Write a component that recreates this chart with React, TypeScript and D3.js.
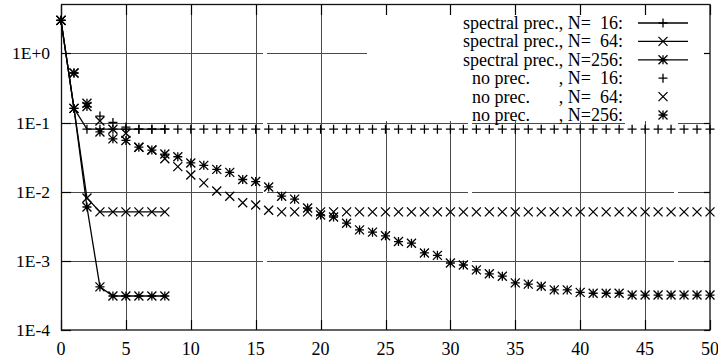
import React from "react";
import * as d3 from "d3";

// ---- data ----
const specN16 = [3.0, 0.16, 0.08, 0.08, 0.08, 0.08, 0.08, 0.08, 0.08];
const specN64 = [3.0, 0.16, 0.0081, 0.0051, 0.0051, 0.0051, 0.0051, 0.0051, 0.0051];
const specN256 = [3.0, 0.16, 0.006, 0.00042, 0.00031, 0.00031, 0.00031, 0.00031, 0.00031];

const noPrecN16 = [
  3.0, 0.52, 0.19, 0.124, 0.1, 0.086, 0.08, 0.08, 0.08, 0.08,
  0.08, 0.08, 0.08, 0.08, 0.08, 0.08, 0.08, 0.08, 0.08, 0.08,
  0.08, 0.08, 0.08, 0.08, 0.08, 0.08, 0.08, 0.08, 0.08, 0.08,
  0.08, 0.08, 0.08, 0.08, 0.08, 0.08, 0.08, 0.08, 0.08, 0.08,
  0.08, 0.08, 0.08, 0.08, 0.08, 0.08, 0.08, 0.08, 0.08, 0.08,
  0.08,
];
const noPrecN64 = [
  3.0, 0.52, 0.19, 0.105, 0.08, 0.07, 0.044, 0.04, 0.03, 0.023,
  0.0174, 0.0134, 0.0102, 0.0086, 0.0069, 0.0064, 0.0054, 0.0051, 0.0051, 0.0051,
  0.0051, 0.0051, 0.0051, 0.0051, 0.0051, 0.0051, 0.0051, 0.0051, 0.0051, 0.0051,
  0.0051, 0.0051, 0.0051, 0.0051, 0.0051, 0.0051, 0.0051, 0.0051, 0.0051, 0.0051,
  0.0051, 0.0051, 0.0051, 0.0051, 0.0051, 0.0051, 0.0051, 0.0051, 0.0051, 0.0051,
  0.0051,
];
const noPrecN256 = [
  3.0, 0.52, 0.17, 0.073, 0.058, 0.055, 0.044, 0.04, 0.035, 0.032,
  0.026, 0.024, 0.021, 0.019, 0.015, 0.014, 0.0117, 0.0086, 0.0078, 0.0058,
  0.0046, 0.0043, 0.0035, 0.0028, 0.0026, 0.0023, 0.0019, 0.0018, 0.0013, 0.0012,
  0.00093, 0.00087, 0.00074, 0.00065, 0.0006, 0.00048, 0.00046, 0.00043, 0.00038, 0.00038,
  0.00035, 0.00034, 0.00034, 0.00034, 0.00032, 0.00032, 0.00032, 0.00032, 0.00032, 0.00032,
  0.00032,
];

const xTicks = [0, 5, 10, 15, 20, 25, 30, 35, 40, 45, 50];
const yTicks = [1, 0.1, 0.01, 0.001, 0.0001];
const yTickLabels = ["1E+0", "1E-1", "1E-2", "1E-3", "1E-4"];

// legend: [left part, right part]
const legendHeads = ["spectral prec.", "spectral prec.", "spectral prec.", "no prec.", "no prec.", "no prec."];
const legendTails = [", N=  16:", ", N=  64:", ", N=256:", ", N=  16:", ", N=  64:", ", N=256:"];

// ---- layout / style ----
const W = 718;
const H = 358;
const M = { left: 61, right: 8, top: 5, bottom: 28 };
const FONT = "'Liberation Serif', 'Times New Roman', serif";
const GRID = "#4a4a4a";
const SW = 1.3;
// small gaps gnuplot left in horizontal grid lines (px)
const hGaps: [number, number][] = [
  [263, 267],
  [468, 472],
  [674, 678],
];
const legendBox = { x0: 367, x1: 705, y0: 15, y1: 121 };

type Kind = "plus" | "cross" | "star";

function markerPath(kind: Kind, x: number, y: number, s = 4.5): string {
  const p = `M${x - s},${y}H${x + s}M${x},${y - s}V${y + s}`;
  const c = `M${x - s},${y - s}L${x + s},${y + s}M${x - s},${y + s}L${x + s},${y - s}`;
  if (kind === "plus") return p;
  if (kind === "cross") return c;
  return p + c;
}

export default function App() {
  const x = d3.scaleLinear().domain([0, 50]).range([M.left, W - M.right]);
  const y = d3.scaleLog().domain([1e-4, 5]).range([H - M.bottom, M.top]);
  const x0 = x.range()[0];
  const x1 = x.range()[1];
  const yTop = y.range()[1];
  const yBot = y.range()[0];

  const line = d3
    .line<number>()
    .x((_, i) => x(i))
    .y((d) => y(d));

  const spectral: { data: number[]; kind: Kind }[] = [
    { data: specN16, kind: "plus" },
    { data: specN64, kind: "cross" },
    { data: specN256, kind: "star" },
  ];
  const noPrec: { data: number[]; kind: Kind }[] = [
    { data: noPrecN16, kind: "plus" },
    { data: noPrecN64, kind: "cross" },
    { data: noPrecN256, kind: "star" },
  ];

  // horizontal gridline segments with gaps
  const hSegments = (yy: number): [number, number][] => {
    const cuts: [number, number][] = [...hGaps];
    if (yy > legendBox.y0 && yy < legendBox.y1) cuts.push([legendBox.x0, legendBox.x1]);
    if (Math.abs(yy - y(0.1)) < 1) cuts.push([625, 678]);
    cuts.sort((a, b) => a[0] - b[0]);
    const segs: [number, number][] = [];
    let cur = x0;
    for (const [a, b] of cuts) {
      if (a > cur) segs.push([cur, a]);
      cur = Math.max(cur, b);
    }
    if (cur < x1) segs.push([cur, x1]);
    return segs;
  };

  const legendRowY = (i: number) => 23 + i * 18.4;
  const legendTextX = 623;
  const legendNoPrecX = 472;
  const legendSample0 = 638;
  const legendSample1 = 688;
  const legendMark = 663;

  return (
    <svg
      width={W}
      height={H}
      style={{ position: "fixed", left: 0, top: 0, background: "#fff" }}
      fontFamily={FONT}
    >
      <rect x={0} y={0} width={W} height={H} fill="#fff" />
      {/* vertical grid */}
      {xTicks
        .filter((t) => t !== 0 && t !== 50)
        .map((t) => {
          const xx = Math.round(x(t)) + 0.5;
          const inLegend = xx > legendBox.x0 && xx < legendBox.x1;
          return (
            <line
              key={"vg" + t}
              x1={xx}
              x2={xx}
              y1={inLegend ? legendBox.y1 : yTop}
              y2={yBot}
              stroke={GRID}
              strokeWidth={1}
            />
          );
        })}
      {/* horizontal grid */}
      {yTicks
        .filter((t) => t !== 1e-4)
        .map((t) => {
          const yy = Math.round(y(t)) + 0.5;
          return hSegments(yy).map(([a, b], k) => (
            <line
              key={"hg" + t + "_" + k}
              x1={a}
              x2={b}
              y1={yy}
              y2={yy}
              stroke={GRID}
              strokeWidth={1}
            />
          ));
        })}
      {/* ticks */}
      {xTicks.map((t) => {
        const xx = Math.round(x(t)) + 0.5;
        return (
          <g key={"xt" + t}>
            <line x1={xx} x2={xx} y1={yTop} y2={yTop + 10} stroke="#000" strokeWidth={1.2} />
            <line x1={xx} x2={xx} y1={yBot} y2={yBot - 10} stroke="#000" strokeWidth={1.2} />
          </g>
        );
      })}
      {yTicks.map((t) => {
        const yy = Math.round(y(t)) + 0.5;
        return (
          <g key={"yt" + t}>
            <line x1={x0} x2={x0 + 10} y1={yy} y2={yy} stroke="#000" strokeWidth={1.2} />
            <line x1={x1} x2={x1 - 6} y1={yy} y2={yy} stroke="#000" strokeWidth={1.2} />
          </g>
        );
      })}
      {/* frame */}
      <rect
        x={x0 + 0.5}
        y={yTop - 0.5}
        width={x1 - x0 - 0.5}
        height={yBot - yTop + 0.5}
        fill="none"
        stroke="#111"
        strokeWidth={1.3}
      />
      {/* tick labels */}
      {xTicks.map((t) => (
        <text key={"xl" + t} x={x(t)} y={H - 3} fontSize={18} textAnchor="middle" fill="#000">
          {t}
        </text>
      ))}
      {yTicks.map((t, i) => (
        <text
          key={"yl" + t}
          x={x0 - 11}
          y={y(t) + 6}
          fontSize={17.5}
          textAnchor="end"
          fill="#000"
        >
          {yTickLabels[i]}
        </text>
      ))}
      {/* series: spectral (lines + points) */}
      {spectral.map((s, si) => (
        <g key={"sp" + si}>
          <path d={line(s.data) || ""} fill="none" stroke="#000" strokeWidth={SW} />
          {s.data.map((v, i) => (
            <path key={i} d={markerPath(s.kind, x(i), y(v))} stroke="#000" strokeWidth={SW} fill="none" />
          ))}
        </g>
      ))}
      {/* series: no prec (points) */}
      {noPrec.map((s, si) => (
        <g key={"np" + si}>
          {s.data.map((v, i) => (
            <path key={i} d={markerPath(s.kind, x(i), y(v))} stroke="#000" strokeWidth={SW} fill="none" />
          ))}
        </g>
      ))}
      {/* legend */}
      {legendHeads.map((head, i) => {
        const yy = legendRowY(i);
        const kind: Kind = i % 3 === 0 ? "plus" : i % 3 === 1 ? "cross" : "star";
        const isSpectral = i < 3;
        return (
          <g key={"lg" + i}>
            {isSpectral ? (
              <text
                x={legendTextX}
                y={yy + 6}
                fontSize={18}
                textAnchor="end"
                style={{ whiteSpace: "pre" }}
                fill="#000"
              >
                {head + legendTails[i]}
              </text>
            ) : (
              <>
                <text x={legendNoPrecX} y={yy + 6} fontSize={18} fill="#000">
                  {head}
                </text>
                <text
                  x={legendTextX}
                  y={yy + 6}
                  fontSize={18}
                  textAnchor="end"
                  style={{ whiteSpace: "pre" }}
                  fill="#000"
                >
                  {legendTails[i]}
                </text>
              </>
            )}
            {isSpectral && (
              <line x1={legendSample0} x2={legendSample1} y1={yy} y2={yy} stroke="#000" strokeWidth={SW} />
            )}
            <path d={markerPath(kind, legendMark, yy)} stroke="#000" strokeWidth={SW} fill="none" />
          </g>
        );
      })}
    </svg>
  );
}
